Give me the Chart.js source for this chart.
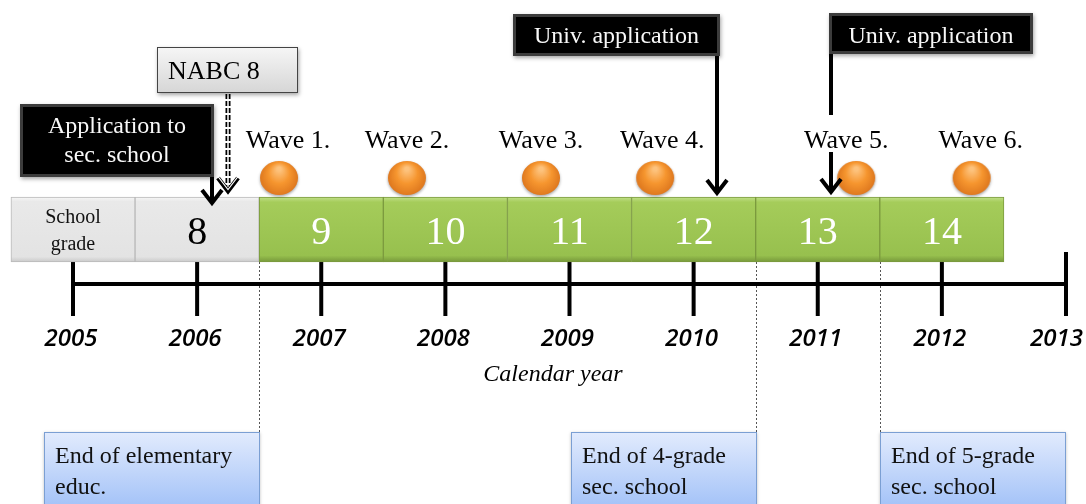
<!DOCTYPE html>
<html><head><meta charset="utf-8">
<script src="https://cdn.jsdelivr.net/npm/chart.js@4.4.0/dist/chart.umd.min.js"></script>
<style>html,body{margin:0;padding:0;background:#fff;overflow:hidden}#c{display:block}</style>
</head><body>
<canvas id="c" width="1086" height="504"></canvas>
<script>
// ---------------- data ----------------
const tickYears = [2005, 2006, 2007, 2008, 2009, 2010, 2011, 2012, 2013];
const gradeLabels = ['School\ngrade', '8', '9', '10', '11', '12', '13', '14'];
const gradeStart = [2004.5, 2005.5, 2006.5, 2007.5, 2008.5, 2009.5, 2010.5, 2011.5];
const gradeEnd   = [2005.5, 2006.5, 2007.5, 2008.5, 2009.5, 2010.5, 2011.5, 2012.5];
const waveLabels = ['Wave 1.', 'Wave 2.', 'Wave 3.', 'Wave 4.', 'Wave 5.', 'Wave 6.'];
const waveYears  = [2006.66, 2007.69, 2008.77, 2009.69, 2011.31, 2012.24];
const eventLabels = ['Application to\nsec. school', 'NABC 8', 'Univ. application', 'Univ. application'];
const eventYears  = [2006.12, 2006.25, 2010.19, 2011.11];
const milestoneLabels = ['End of elementary\neduc.', 'End of 4-grade\nsec. school', 'End of 5-grade\nsec. school'];
const milestoneYears  = [2006.5, 2010.5, 2011.5];
const axisTitle = 'Calendar year';

// ---------------- layout / style ----------------
const W = 1086, H = 504, PX_PER_YEAR = 124.125, FIRST_TICK_PX = 73;
const L = {
  xMin: tickYears[0] - FIRST_TICK_PX / PX_PER_YEAR,
  xMax: tickYears[0] + (W - FIRST_TICK_PX) / PX_PER_YEAR,
  gradeTop: 197, gradeBottom: 262,
  waveY: 178, waveLabelY: 148, waveLabelDx: [9, 0, 0, 7, -10, 9],
  axisY: 284, tickTop: 252, tickBottom: 316, yearLabelY: 346,
  titleX: 553, titleY: 381,
  milestoneTop: 432,
  milestoneBoxes: [{anchor: 'right', w: 216}, {anchor: 'right', w: 186}, {anchor: 'left', w: 186}],
  callouts: [
    {style: 'dark',  dx0: -192, dx1: 2,   top: 104, bottom: 177, from: 177, tip: 203, font: 24, align: 'center', lines: [29, 58]},
    {style: 'light', dx0: -71,  dx1: 70,  top: 47,  bottom: 93,  from: 94,  tip: 191, font: 26, align: 'left',   lines: [32]},
    {style: 'dark',  dx0: -204, dx1: 3,   top: 14,  bottom: 56,  from: 56,  tip: 193, font: 24, align: 'center', lines: [29]},
    {style: 'dark',  dx0: -2,   dx1: 202, top: 13,  bottom: 54,  from: 54,  tip: 192, font: 24, align: 'center', lines: [30], gap: [115, 152]}
  ]
};
const SERIF = '"Liberation Serif", "Times New Roman", serif';

function makeOrb() {
  const c = document.createElement('canvas');
  c.width = 44; c.height = 40;
  const g = c.getContext('2d');
  g.save();
  g.shadowColor = 'rgba(0,0,0,0.35)'; g.shadowBlur = 3; g.shadowOffsetY = 1.5;
  g.beginPath(); g.ellipse(22, 20, 19, 17, 0, 0, Math.PI * 2);
  const rg = g.createRadialGradient(22, 11, 2, 22, 20, 21);
  rg.addColorStop(0, '#fdc27c'); rg.addColorStop(0.45, '#f6962f'); rg.addColorStop(1, '#d8701a');
  g.fillStyle = rg; g.fill();
  g.restore();
  return c;
}
const orb = makeOrb();

function gradeFill(ctx) {
  const chart = ctx.chart, y = chart.scales.y;
  const flat = ctx.dataIndex < 2 ? '#e6e6e6' : '#9bc350';
  if (!y) return flat;
  const t = y.getPixelForValue(L.gradeTop), b = y.getPixelForValue(L.gradeBottom);
  if (!isFinite(t) || !isFinite(b) || t === b) return flat;
  const g = chart.ctx.createLinearGradient(0, t, 0, b);
  if (ctx.dataIndex < 2) {
    g.addColorStop(0, '#f7f7f7'); g.addColorStop(0.07, '#e9e9e9'); g.addColorStop(0.92, '#e3e3e3'); g.addColorStop(1, '#c9c9c9');
  } else {
    g.addColorStop(0, '#c2e08a'); g.addColorStop(0.08, '#a5cc5a'); g.addColorStop(0.9, '#97c04e'); g.addColorStop(1, '#76983a');
  }
  return g;
}

function arrowHead(ctx, x, tip) {
  ctx.beginPath();
  ctx.moveTo(x - 10, tip - 13); ctx.lineTo(x, tip); ctx.lineTo(x + 10, tip - 13);
  ctx.stroke();
}

const timelinePlugin = {
  id: 'timeline',
  beforeDatasetsDraw(chart) {
    const {ctx, scales: {x, y}} = chart;
    ctx.save();
    ctx.strokeStyle = '#555'; ctx.lineWidth = 1; ctx.setLineDash([2, 2]);
    milestoneYears.forEach(yr => {
      const px = Math.round(x.getPixelForValue(yr)) + 0.5;
      ctx.beginPath();
      ctx.moveTo(px, y.getPixelForValue(L.gradeBottom));
      ctx.lineTo(px, y.getPixelForValue(L.milestoneTop));
      ctx.stroke();
    });
    ctx.setLineDash([]);
    ctx.strokeStyle = '#000'; ctx.lineWidth = 4; ctx.lineCap = 'butt';
    const ay = y.getPixelForValue(L.axisY);
    ctx.beginPath();
    ctx.moveTo(x.getPixelForValue(tickYears[0]), ay);
    ctx.lineTo(x.getPixelForValue(tickYears[tickYears.length - 1]), ay);
    ctx.stroke();
    tickYears.forEach(t => {
      const px = x.getPixelForValue(t);
      ctx.beginPath();
      ctx.moveTo(px, y.getPixelForValue(L.tickTop));
      ctx.lineTo(px, y.getPixelForValue(L.tickBottom));
      ctx.stroke();
    });
    ctx.restore();
  },
  afterDatasetsDraw(chart) {
    const {ctx, scales: {x, y}} = chart;
    ctx.save();
    const gt = y.getPixelForValue(L.gradeTop);
    gradeLabels.forEach((lab, i) => {
      const cx = (x.getPixelForValue(gradeStart[i]) + x.getPixelForValue(gradeEnd[i])) / 2;
      ctx.textAlign = 'center'; ctx.textBaseline = 'alphabetic';
      if (lab.includes('\n')) {
        ctx.fillStyle = '#111'; ctx.font = '20px ' + SERIF;
        const parts = lab.split('\n');
        ctx.fillText(parts[0], cx, gt + 26);
        ctx.fillText(parts[1], cx, gt + 53);
      } else {
        ctx.fillStyle = i < 2 ? '#000' : '#fff';
        ctx.font = '40px ' + SERIF;
        ctx.fillText(lab, cx, gt + 47);
      }
    });
    ctx.fillStyle = '#000'; ctx.font = '26px ' + SERIF; ctx.textAlign = 'center';
    waveLabels.forEach((lab, i) => {
      ctx.fillText(lab, x.getPixelForValue(waveYears[i]) + L.waveLabelDx[i], y.getPixelForValue(L.waveLabelY));
    });
    eventLabels.forEach((lab, i) => {
      const c = L.callouts[i];
      const ax = Math.round(x.getPixelForValue(eventYears[i]));
      const bx0 = ax + c.dx0, bx1 = ax + c.dx1;
      const top = y.getPixelForValue(c.top), bot = y.getPixelForValue(c.bottom);
      ctx.save();
      if (c.style === 'light') {
        ctx.strokeStyle = '#000'; ctx.lineWidth = 5; ctx.setLineDash([5, 2]);
        ctx.beginPath(); ctx.moveTo(ax, y.getPixelForValue(c.from)); ctx.lineTo(ax, y.getPixelForValue(c.tip) - 2); ctx.stroke();
        ctx.strokeStyle = '#fff'; ctx.lineWidth = 1.5; ctx.setLineDash([]);
        ctx.beginPath(); ctx.moveTo(ax, y.getPixelForValue(c.from)); ctx.lineTo(ax, y.getPixelForValue(c.tip) - 3); ctx.stroke();
        ctx.strokeStyle = '#000'; ctx.lineWidth = 4.5; ctx.lineJoin = 'miter';
        arrowHead(ctx, ax, y.getPixelForValue(c.tip));
        ctx.strokeStyle = '#fff'; ctx.lineWidth = 1.2;
        arrowHead(ctx, ax, y.getPixelForValue(c.tip) - 1.5);
      } else {
        ctx.strokeStyle = '#000'; ctx.lineWidth = 4; ctx.lineJoin = 'miter';
        ctx.beginPath();
        if (c.gap) {
          ctx.moveTo(ax, y.getPixelForValue(c.from)); ctx.lineTo(ax, y.getPixelForValue(c.gap[0]));
          ctx.moveTo(ax, y.getPixelForValue(c.gap[1])); ctx.lineTo(ax, y.getPixelForValue(c.tip) - 1);
        } else {
          ctx.moveTo(ax, y.getPixelForValue(c.from)); ctx.lineTo(ax, y.getPixelForValue(c.tip) - 1);
        }
        ctx.stroke();
        arrowHead(ctx, ax, y.getPixelForValue(c.tip));
      }
      ctx.restore();
      ctx.save();
      ctx.shadowColor = 'rgba(0,0,0,0.35)'; ctx.shadowBlur = 4; ctx.shadowOffsetY = 2; ctx.shadowOffsetX = 1;
      if (c.style === 'dark') {
        ctx.fillStyle = '#3c3c3c'; ctx.fillRect(bx0, top, bx1 - bx0, bot - top);
        ctx.shadowColor = 'transparent';
        ctx.fillStyle = '#000'; ctx.fillRect(bx0 + 3, top + 3, bx1 - bx0 - 6, bot - top - 6);
      } else {
        const g = ctx.createLinearGradient(0, top, 0, bot);
        g.addColorStop(0, '#f6f6f6'); g.addColorStop(1, '#d6d6d6');
        ctx.fillStyle = g; ctx.fillRect(bx0, top, bx1 - bx0, bot - top);
        ctx.shadowColor = 'transparent';
        ctx.strokeStyle = '#444'; ctx.lineWidth = 1;
        ctx.strokeRect(bx0 + 0.5, top + 0.5, bx1 - bx0 - 1, bot - top - 1);
      }
      ctx.restore();
      ctx.fillStyle = c.style === 'dark' ? '#f8f8f8' : '#000';
      ctx.font = c.font + 'px ' + SERIF;
      ctx.textAlign = c.align;
      const tx = c.align === 'center' ? (bx0 + bx1) / 2 : bx0 + 11;
      lab.split('\n').forEach((ln, k) => ctx.fillText(ln, tx, top + c.lines[k]));
    });
    const mt = y.getPixelForValue(L.milestoneTop);
    milestoneLabels.forEach((lab, i) => {
      const m = L.milestoneBoxes[i];
      const ax = Math.round(x.getPixelForValue(milestoneYears[i]));
      const bx0 = m.anchor === 'right' ? ax - m.w + 1 : ax;
      ctx.save();
      ctx.shadowColor = 'rgba(0,0,0,0.25)'; ctx.shadowBlur = 3; ctx.shadowOffsetY = 1;
      const g = ctx.createLinearGradient(0, mt, 0, H);
      g.addColorStop(0, '#e2ebfd'); g.addColorStop(1, '#a6c4f8');
      ctx.fillStyle = g; ctx.fillRect(bx0, mt, m.w, H - mt + 10);
      ctx.restore();
      ctx.strokeStyle = '#7b9fd3'; ctx.lineWidth = 1;
      ctx.strokeRect(bx0 + 0.5, mt + 0.5, m.w - 1, H - mt + 10);
      ctx.fillStyle = '#111'; ctx.font = '24px ' + SERIF; ctx.textAlign = 'left';
      lab.split('\n').forEach((ln, k) => ctx.fillText(ln, bx0 + 11, mt + 31 + k * 31));
    });
    ctx.fillStyle = '#000'; ctx.textAlign = 'center';
    ctx.font = 'italic 600 24px "Open Sans", sans-serif';
    tickYears.forEach(t => {
      const s = String(t);
      const half = ctx.measureText(s).width / 2;
      let cx = x.getPixelForValue(t) - 2;
      if (cx + half > W - 3) cx = W - 3 - half;
      ctx.fillText(s, cx, y.getPixelForValue(L.yearLabelY));
    });
    ctx.font = 'italic 24px ' + SERIF;
    ctx.fillText(axisTitle, L.titleX, y.getPixelForValue(L.titleY));
    ctx.restore();
  }
};

new Chart(document.getElementById('c'), {
  type: 'bar',
  data: {
    datasets: [
      {
        type: 'bar', indexAxis: 'y', label: 'School grade',
        data: gradeStart.map((s, i) => ({x: [s, gradeEnd[i]], y: (L.gradeTop + L.gradeBottom) / 2})),
        barThickness: L.gradeBottom - L.gradeTop,
        backgroundColor: gradeFill,
        borderColor: ctx => ctx.dataIndex < 2 ? '#b9b9b9' : '#7b9a3e',
        borderWidth: 1, borderSkipped: false, order: 2
      },
      {
        type: 'scatter', label: 'Waves',
        data: waveYears.map(v => ({x: v, y: L.waveY})),
        pointStyle: orb, pointRadius: 18, pointHoverRadius: 18, order: 1
      }
    ]
  },
  options: {
    responsive: false, animation: false, events: [],
    layout: {padding: 0, autoPadding: false},
    plugins: {legend: {display: false}, tooltip: {enabled: false}, title: {display: false}},
    scales: {
      x: {type: 'linear', min: L.xMin, max: L.xMax, offset: false, display: false},
      y: {type: 'linear', min: 0, max: H, reverse: true, offset: false, display: false}
    }
  },
  plugins: [timelinePlugin]
});
</script>
</body></html>
